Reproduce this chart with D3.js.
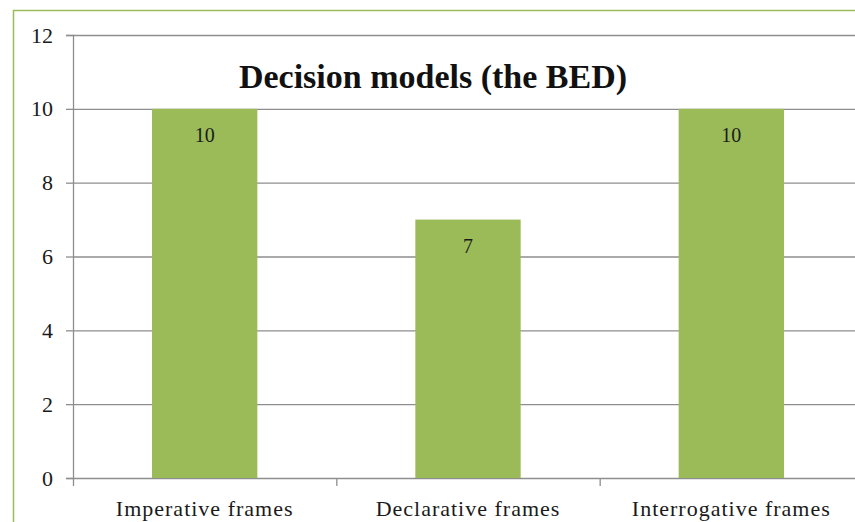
<!DOCTYPE html>
<html>
<head>
<meta charset="utf-8">
<script src="https://cdn.jsdelivr.net/npm/d3@7"></script>
<style>
  body { margin: 0; background: #fff; }
  svg { display: block; font-family: "Liberation Serif", "Times New Roman", serif; }
</style>
</head>
<body>
<svg id="chart"></svg>
<script>
// data
var categories = ['Imperative frames', 'Declarative frames', 'Interrogative frames'];
var values = [10, 7, 10];
var yTicks = [0, 2, 4, 6, 8, 10, 12];
var title = 'Decision models (the BED)';

var svgWidth = 855,
    svgHeight = 522;
var margin = {top: 35, right: -8, bottom: 44, left: 73};
var width = svgWidth - margin.left - margin.right;
var height = svgHeight - margin.top - margin.bottom;

var svg = d3.select('#chart')
    .attr('width', svgWidth)
    .attr('height', svgHeight);

// outer green frame
svg.append('rect')
    .attr('x', 13.5)
    .attr('y', 10.5)
    .attr('width', 900)
    .attr('height', 600)
    .attr('fill', 'none')
    .attr('stroke', '#9bbb59')
    .attr('stroke-width', 1.5);

var g = svg.append('g')
    .attr('transform', 'translate(' + margin.left + ',' + margin.top + ')');

var x = d3.scaleBand()
    .domain(categories)
    .range([0, width])
    .paddingInner(0.6)
    .paddingOuter(0.3);

var xOuter = d3.scaleBand()
    .domain(categories)
    .range([0, width]);

var y = d3.scaleLinear()
    .domain([0, 12])
    .range([height, 0]);

// gridlines
g.append('g')
    .selectAll('line')
    .data(yTicks)
    .enter()
    .append('line')
    .attr('x1', 0)
    .attr('x2', width)
    .attr('y1', function (d) { return y(d) + 0.5; })
    .attr('y2', function (d) { return y(d) + 0.5; })
    .attr('stroke', '#8e8e8e')
    .attr('stroke-width', 1.3);

// y axis
var yAxis = g.append('g')
    .call(d3.axisLeft(y).tickValues(yTicks).tickSize(7).tickPadding(13));
yAxis.attr('font-family', '"Liberation Serif", serif');
yAxis.select('.domain').attr('stroke', '#8e8e8e').attr('stroke-width', 1.3);
yAxis.selectAll('.tick line').attr('stroke', '#8e8e8e').attr('stroke-width', 1.3);
yAxis.selectAll('.tick text')
    .attr('font-size', 22)
    .attr('fill', '#1a1a1a');

// x axis ticks at band boundaries
var xAxis = g.append('g')
    .attr('transform', 'translate(0,' + height + ')');
xAxis.append('g')
    .selectAll('line')
    .data(categories)
    .enter()
    .append('line')
    .attr('x1', function (d) { return xOuter(d) + 0.5; })
    .attr('x2', function (d) { return xOuter(d) + 0.5; })
    .attr('y1', 0)
    .attr('y2', 8)
    .attr('stroke', '#8e8e8e')
    .attr('stroke-width', 1.3);
xAxis.append('g')
    .selectAll('text')
    .data(categories)
    .enter()
    .append('text')
    .attr('x', function (d) { return xOuter(d) + xOuter.bandwidth() / 2; })
    .attr('y', 38)
    .attr('text-anchor', 'middle')
    .attr('font-size', 22)
    .attr('letter-spacing', 1)
    .attr('fill', '#1a1a1a')
    .text(function (d) { return d; });

// bars
g.selectAll('.bar')
    .data(values)
    .enter()
    .append('rect')
    .attr('class', 'bar')
    .attr('x', function (d, i) { return x(categories[i]); })
    .attr('y', function (d) { return y(d); })
    .attr('width', x.bandwidth())
    .attr('height', function (d) { return height - y(d); })
    .attr('fill', '#9bbb59');

// value labels
g.selectAll('.val')
    .data(values)
    .enter()
    .append('text')
    .attr('class', 'val')
    .attr('x', function (d, i) { return x(categories[i]) + x.bandwidth() / 2; })
    .attr('y', function (d) { return y(d) + 33; })
    .attr('text-anchor', 'middle')
    .attr('font-size', 20)
    .attr('fill', '#1a1a1a')
    .text(function (d) { return d; });

// title
svg.append('text')
    .attr('x', 433)
    .attr('y', 88)
    .attr('text-anchor', 'middle')
    .attr('font-size', 34)
    .attr('font-weight', 'bold')
    .attr('fill', '#111')
    .text(title);
</script>
</body>
</html>
